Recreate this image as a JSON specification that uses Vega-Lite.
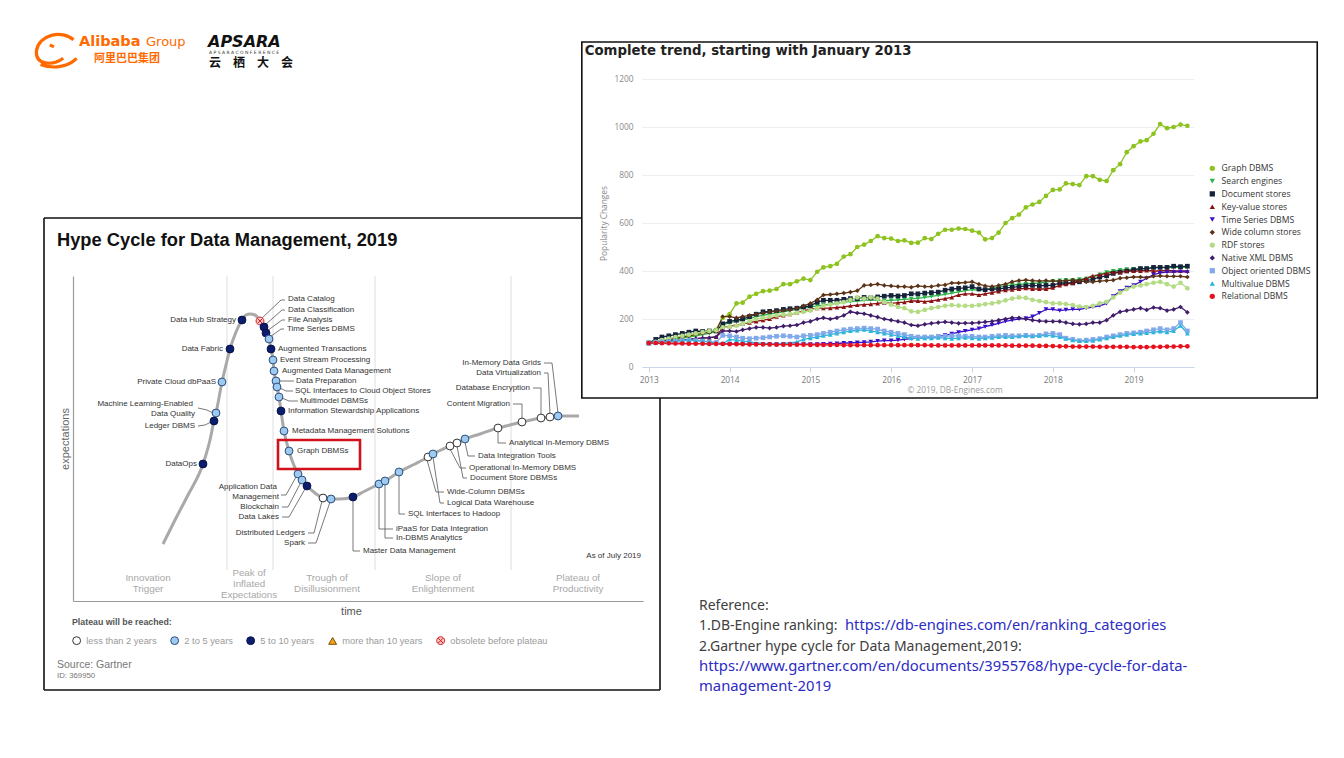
{
"$schema":"https://vega.github.io/schema/vega-lite/v6.json",
"width":1344,"height":758,"padding":0,"autosize":{"type":"none"},
"background":"#ffffff",
"config":{"view":{"stroke":null},"font":"Liberation Sans"},
"datasets":{
"series":[{"k":"g","name":"Graph DBMS"},{"k":"se","name":"Search engines"},{"k":"dc","name":"Document stores"},{"k":"kv","name":"Key-value stores"},{"k":"ts","name":"Time Series DBMS"},{"k":"wc","name":"Wide column stores"},{"k":"rdf","name":"RDF stores"},{"k":"xml","name":"Native XML DBMS"},{"k":"oo","name":"Object oriented DBMS"},{"k":"mv","name":"Multivalue DBMS"},{"k":"rel","name":"Relational DBMS"}],
"trend":[
{"d":"2013-01","g":100,"se":100,"dc":100,"kv":100,"ts":100,"wc":100,"rdf":100,"xml":100,"oo":100,"mv":100,"rel":100},
{"d":"2013-02","g":104,"se":104,"dc":115,"kv":102,"ts":99,"wc":105,"rdf":105,"xml":102,"oo":102,"mv":100,"rel":100},
{"d":"2013-03","g":108,"se":108,"dc":125,"kv":105,"ts":99,"wc":110,"rdf":112,"xml":105,"oo":104,"mv":102,"rel":99},
{"d":"2013-04","g":113,"se":112,"dc":130,"kv":108,"ts":98,"wc":115,"rdf":118,"xml":108,"oo":106,"mv":105,"rel":99},
{"d":"2013-05","g":118,"se":116,"dc":135,"kv":110,"ts":98,"wc":120,"rdf":125,"xml":110,"oo":108,"mv":108,"rel":98},
{"d":"2013-06","g":122,"se":120,"dc":140,"kv":112,"ts":98,"wc":125,"rdf":130,"xml":112,"oo":110,"mv":110,"rel":98},
{"d":"2013-07","g":128,"se":125,"dc":145,"kv":115,"ts":97,"wc":130,"rdf":135,"xml":115,"oo":112,"mv":112,"rel":97},
{"d":"2013-08","g":135,"se":130,"dc":150,"kv":118,"ts":97,"wc":135,"rdf":140,"xml":118,"oo":110,"mv":110,"rel":97},
{"d":"2013-09","g":142,"se":135,"dc":148,"kv":120,"ts":97,"wc":140,"rdf":145,"xml":120,"oo":108,"mv":108,"rel":97},
{"d":"2013-10","g":150,"se":140,"dc":150,"kv":122,"ts":96,"wc":145,"rdf":150,"xml":122,"oo":105,"mv":105,"rel":96},
{"d":"2013-11","g":155,"se":148,"dc":150,"kv":125,"ts":96,"wc":150,"rdf":153,"xml":125,"oo":102,"mv":100,"rel":96},
{"d":"2013-12","g":205,"se":175,"dc":180,"kv":165,"ts":96,"wc":210,"rdf":165,"xml":150,"oo":132,"mv":98,"rel":96},
{"d":"2014-01","g":220,"se":185,"dc":190,"kv":170,"ts":96,"wc":210,"rdf":168,"xml":150,"oo":130,"mv":115,"rel":95},
{"d":"2014-02","g":265,"se":190,"dc":195,"kv":175,"ts":95,"wc":205,"rdf":172,"xml":148,"oo":125,"mv":112,"rel":95},
{"d":"2014-03","g":268,"se":195,"dc":200,"kv":180,"ts":95,"wc":210,"rdf":180,"xml":155,"oo":120,"mv":108,"rel":95},
{"d":"2014-04","g":293,"se":202,"dc":210,"kv":185,"ts":95,"wc":215,"rdf":190,"xml":160,"oo":118,"mv":105,"rel":94},
{"d":"2014-05","g":305,"se":210,"dc":220,"kv":190,"ts":95,"wc":220,"rdf":200,"xml":165,"oo":120,"mv":100,"rel":94},
{"d":"2014-06","g":316,"se":215,"dc":230,"kv":195,"ts":95,"wc":225,"rdf":205,"xml":165,"oo":122,"mv":98,"rel":94},
{"d":"2014-07","g":318,"se":220,"dc":232,"kv":200,"ts":95,"wc":230,"rdf":210,"xml":162,"oo":125,"mv":95,"rel":94},
{"d":"2014-08","g":325,"se":225,"dc":235,"kv":210,"ts":95,"wc":232,"rdf":215,"xml":165,"oo":128,"mv":95,"rel":93},
{"d":"2014-09","g":345,"se":230,"dc":240,"kv":215,"ts":95,"wc":235,"rdf":218,"xml":170,"oo":130,"mv":98,"rel":93},
{"d":"2014-10","g":345,"se":235,"dc":243,"kv":220,"ts":95,"wc":238,"rdf":220,"xml":172,"oo":128,"mv":100,"rel":93},
{"d":"2014-11","g":357,"se":240,"dc":245,"kv":225,"ts":95,"wc":245,"rdf":225,"xml":175,"oo":125,"mv":105,"rel":93},
{"d":"2014-12","g":368,"se":245,"dc":250,"kv":235,"ts":95,"wc":255,"rdf":230,"xml":185,"oo":130,"mv":115,"rel":93},
{"d":"2015-01","g":362,"se":250,"dc":255,"kv":240,"ts":95,"wc":265,"rdf":235,"xml":190,"oo":132,"mv":120,"rel":92},
{"d":"2015-02","g":397,"se":255,"dc":270,"kv":245,"ts":95,"wc":280,"rdf":245,"xml":200,"oo":135,"mv":125,"rel":92},
{"d":"2015-03","g":415,"se":258,"dc":278,"kv":245,"ts":96,"wc":300,"rdf":255,"xml":205,"oo":140,"mv":130,"rel":92},
{"d":"2015-04","g":420,"se":262,"dc":278,"kv":245,"ts":97,"wc":302,"rdf":260,"xml":200,"oo":145,"mv":135,"rel":92},
{"d":"2015-05","g":430,"se":265,"dc":278,"kv":248,"ts":98,"wc":305,"rdf":265,"xml":205,"oo":150,"mv":140,"rel":92},
{"d":"2015-06","g":460,"se":270,"dc":282,"kv":250,"ts":100,"wc":308,"rdf":270,"xml":215,"oo":155,"mv":145,"rel":91},
{"d":"2015-07","g":470,"se":272,"dc":285,"kv":255,"ts":100,"wc":312,"rdf":280,"xml":230,"oo":158,"mv":150,"rel":91},
{"d":"2015-08","g":500,"se":275,"dc":285,"kv":258,"ts":102,"wc":318,"rdf":290,"xml":225,"oo":160,"mv":152,"rel":91},
{"d":"2015-09","g":510,"se":278,"dc":290,"kv":260,"ts":103,"wc":340,"rdf":285,"xml":222,"oo":162,"mv":155,"rel":91},
{"d":"2015-10","g":525,"se":280,"dc":288,"kv":262,"ts":105,"wc":342,"rdf":290,"xml":215,"oo":160,"mv":150,"rel":91},
{"d":"2015-11","g":545,"se":278,"dc":292,"kv":265,"ts":108,"wc":345,"rdf":285,"xml":208,"oo":158,"mv":145,"rel":91},
{"d":"2015-12","g":537,"se":276,"dc":295,"kv":268,"ts":110,"wc":340,"rdf":270,"xml":200,"oo":150,"mv":140,"rel":91},
{"d":"2016-01","g":535,"se":278,"dc":298,"kv":265,"ts":110,"wc":338,"rdf":260,"xml":195,"oo":145,"mv":135,"rel":91},
{"d":"2016-02","g":525,"se":280,"dc":296,"kv":268,"ts":112,"wc":335,"rdf":250,"xml":190,"oo":140,"mv":130,"rel":91},
{"d":"2016-03","g":528,"se":282,"dc":298,"kv":270,"ts":115,"wc":335,"rdf":245,"xml":185,"oo":135,"mv":125,"rel":91},
{"d":"2016-04","g":517,"se":284,"dc":305,"kv":275,"ts":118,"wc":332,"rdf":232,"xml":175,"oo":128,"mv":120,"rel":91},
{"d":"2016-05","g":518,"se":286,"dc":305,"kv":275,"ts":120,"wc":338,"rdf":230,"xml":172,"oo":125,"mv":118,"rel":91},
{"d":"2016-06","g":537,"se":290,"dc":308,"kv":272,"ts":122,"wc":335,"rdf":238,"xml":178,"oo":125,"mv":120,"rel":91},
{"d":"2016-07","g":533,"se":294,"dc":310,"kv":275,"ts":125,"wc":335,"rdf":245,"xml":182,"oo":125,"mv":120,"rel":90},
{"d":"2016-08","g":555,"se":298,"dc":312,"kv":280,"ts":128,"wc":340,"rdf":250,"xml":185,"oo":128,"mv":122,"rel":90},
{"d":"2016-09","g":572,"se":303,"dc":320,"kv":285,"ts":132,"wc":342,"rdf":255,"xml":188,"oo":128,"mv":120,"rel":90},
{"d":"2016-10","g":572,"se":308,"dc":325,"kv":290,"ts":138,"wc":350,"rdf":258,"xml":185,"oo":130,"mv":118,"rel":90},
{"d":"2016-11","g":577,"se":313,"dc":328,"kv":300,"ts":145,"wc":350,"rdf":256,"xml":182,"oo":130,"mv":120,"rel":90},
{"d":"2016-12","g":575,"se":318,"dc":330,"kv":305,"ts":150,"wc":352,"rdf":255,"xml":183,"oo":128,"mv":122,"rel":90},
{"d":"2017-01","g":568,"se":322,"dc":335,"kv":305,"ts":155,"wc":355,"rdf":255,"xml":183,"oo":128,"mv":120,"rel":90},
{"d":"2017-02","g":560,"se":320,"dc":325,"kv":300,"ts":160,"wc":345,"rdf":258,"xml":185,"oo":125,"mv":118,"rel":90},
{"d":"2017-03","g":532,"se":322,"dc":322,"kv":305,"ts":168,"wc":338,"rdf":262,"xml":188,"oo":125,"mv":120,"rel":90},
{"d":"2017-04","g":537,"se":328,"dc":325,"kv":310,"ts":175,"wc":335,"rdf":265,"xml":190,"oo":128,"mv":122,"rel":90},
{"d":"2017-05","g":560,"se":333,"dc":325,"kv":315,"ts":182,"wc":340,"rdf":270,"xml":195,"oo":130,"mv":125,"rel":90},
{"d":"2017-06","g":600,"se":338,"dc":330,"kv":320,"ts":190,"wc":345,"rdf":278,"xml":200,"oo":132,"mv":125,"rel":90},
{"d":"2017-07","g":620,"se":342,"dc":332,"kv":322,"ts":195,"wc":355,"rdf":285,"xml":205,"oo":130,"mv":125,"rel":89},
{"d":"2017-08","g":635,"se":344,"dc":335,"kv":325,"ts":200,"wc":360,"rdf":290,"xml":205,"oo":130,"mv":128,"rel":89},
{"d":"2017-09","g":665,"se":346,"dc":338,"kv":328,"ts":203,"wc":362,"rdf":288,"xml":200,"oo":132,"mv":130,"rel":89},
{"d":"2017-10","g":677,"se":348,"dc":340,"kv":325,"ts":210,"wc":360,"rdf":280,"xml":195,"oo":130,"mv":128,"rel":89},
{"d":"2017-11","g":688,"se":350,"dc":338,"kv":325,"ts":225,"wc":358,"rdf":275,"xml":192,"oo":132,"mv":130,"rel":88},
{"d":"2017-12","g":713,"se":354,"dc":340,"kv":325,"ts":240,"wc":360,"rdf":270,"xml":190,"oo":138,"mv":132,"rel":88},
{"d":"2018-01","g":738,"se":358,"dc":340,"kv":330,"ts":240,"wc":358,"rdf":265,"xml":190,"oo":140,"mv":130,"rel":87},
{"d":"2018-02","g":740,"se":360,"dc":350,"kv":340,"ts":235,"wc":358,"rdf":265,"xml":190,"oo":135,"mv":125,"rel":86},
{"d":"2018-03","g":765,"se":362,"dc":350,"kv":345,"ts":238,"wc":360,"rdf":262,"xml":185,"oo":120,"mv":118,"rel":86},
{"d":"2018-04","g":762,"se":362,"dc":350,"kv":350,"ts":240,"wc":362,"rdf":258,"xml":180,"oo":115,"mv":112,"rel":85},
{"d":"2018-05","g":758,"se":365,"dc":355,"kv":360,"ts":240,"wc":360,"rdf":252,"xml":178,"oo":110,"mv":108,"rel":85},
{"d":"2018-06","g":795,"se":368,"dc":360,"kv":370,"ts":245,"wc":355,"rdf":250,"xml":180,"oo":112,"mv":108,"rel":85},
{"d":"2018-07","g":795,"se":375,"dc":365,"kv":380,"ts":250,"wc":355,"rdf":255,"xml":185,"oo":115,"mv":110,"rel":85},
{"d":"2018-08","g":780,"se":385,"dc":375,"kv":385,"ts":255,"wc":358,"rdf":265,"xml":185,"oo":118,"mv":115,"rel":84},
{"d":"2018-09","g":775,"se":395,"dc":380,"kv":390,"ts":265,"wc":360,"rdf":272,"xml":195,"oo":125,"mv":120,"rel":84},
{"d":"2018-10","g":820,"se":400,"dc":390,"kv":395,"ts":295,"wc":362,"rdf":290,"xml":215,"oo":130,"mv":125,"rel":84},
{"d":"2018-11","g":845,"se":404,"dc":395,"kv":395,"ts":315,"wc":370,"rdf":310,"xml":230,"oo":135,"mv":130,"rel":84},
{"d":"2018-12","g":895,"se":407,"dc":400,"kv":400,"ts":330,"wc":372,"rdf":325,"xml":235,"oo":140,"mv":135,"rel":84},
{"d":"2019-01","g":920,"se":408,"dc":405,"kv":400,"ts":340,"wc":375,"rdf":335,"xml":240,"oo":142,"mv":138,"rel":83},
{"d":"2019-02","g":940,"se":410,"dc":410,"kv":400,"ts":355,"wc":375,"rdf":340,"xml":245,"oo":145,"mv":140,"rel":83},
{"d":"2019-03","g":945,"se":410,"dc":410,"kv":402,"ts":370,"wc":372,"rdf":345,"xml":238,"oo":150,"mv":142,"rel":83},
{"d":"2019-04","g":972,"se":412,"dc":415,"kv":400,"ts":385,"wc":378,"rdf":351,"xml":248,"oo":155,"mv":145,"rel":84},
{"d":"2019-05","g":1012,"se":414,"dc":415,"kv":400,"ts":392,"wc":380,"rdf":355,"xml":245,"oo":160,"mv":148,"rel":84},
{"d":"2019-06","g":995,"se":414,"dc":415,"kv":402,"ts":395,"wc":378,"rdf":345,"xml":235,"oo":155,"mv":145,"rel":85},
{"d":"2019-07","g":1000,"se":415,"dc":420,"kv":400,"ts":395,"wc":378,"rdf":335,"xml":240,"oo":160,"mv":150,"rel":85},
{"d":"2019-08","g":1010,"se":416,"dc":418,"kv":400,"ts":398,"wc":378,"rdf":351,"xml":250,"oo":185,"mv":172,"rel":86},
{"d":"2019-09","g":1005,"se":415,"dc":420,"kv":400,"ts":395,"wc":375,"rdf":328,"xml":228,"oo":150,"mv":140,"rel":86}
],
"hcurve":[{"x":18,"y":11.4},{"x":20.4,"y":16.2},{"x":23,"y":21.2},{"x":26,"y":27.4},{"x":27.4,"y":32.2},{"x":28.2,"y":36},{"x":28.6,"y":37.6},{"x":29.8,"y":43.8},{"x":30.6,"y":47.2},{"x":31.4,"y":50.4},{"x":32.6,"y":53.8},{"x":33.8,"y":56.2},{"x":34.6,"y":57.2},{"x":35.4,"y":57.4},{"x":36.4,"y":57.2},{"x":37.4,"y":56},{"x":38.2,"y":54.8},{"x":38.6,"y":53.6},{"x":39.2,"y":52.4},{"x":39.6,"y":50.4},{"x":40,"y":48.2},{"x":40.2,"y":46},{"x":40.6,"y":44},{"x":40.8,"y":42.8},{"x":41.2,"y":40.8},{"x":41.6,"y":38},{"x":42.2,"y":34},{"x":43.2,"y":30},{"x":44,"y":27.6},{"x":45,"y":25.4},{"x":45.8,"y":24.2},{"x":46.8,"y":23},{"x":48.4,"y":21.6},{"x":50,"y":20.6},{"x":51.6,"y":20.4},{"x":53.4,"y":20.4},{"x":56,"y":20.8},{"x":58.4,"y":22},{"x":61.2,"y":23.4},{"x":62.4,"y":24},{"x":65.2,"y":25.8},{"x":68.4,"y":27.4},{"x":71,"y":28.8},{"x":72,"y":29.4},{"x":75.4,"y":31},{"x":76.8,"y":31.6},{"x":78.4,"y":32.4},{"x":81.4,"y":33.4},{"x":85,"y":34.6},{"x":87.4,"y":35.2},{"x":89.8,"y":35.8},{"x":93.6,"y":36.6},{"x":95.4,"y":36.8},{"x":97,"y":37},{"x":101.2,"y":37}],
"hpts":[{"x":26,"y":27.4,"c":"5 to 10 years"},{"x":28.2,"y":36,"c":"5 to 10 years"},{"x":28.6,"y":37.6,"c":"2 to 5 years"},{"x":29.8,"y":43.8,"c":"2 to 5 years"},{"x":31.4,"y":50.4,"c":"5 to 10 years"},{"x":33.8,"y":56.2,"c":"5 to 10 years"},{"x":37.4,"y":56,"c":"obsolete before plateau"},{"x":38.2,"y":54.8,"c":"5 to 10 years"},{"x":38.6,"y":53.6,"c":"5 to 10 years"},{"x":39.2,"y":52.4,"c":"2 to 5 years"},{"x":39.6,"y":50.4,"c":"5 to 10 years"},{"x":40,"y":48.2,"c":"2 to 5 years"},{"x":40.2,"y":46,"c":"2 to 5 years"},{"x":40.6,"y":44,"c":"2 to 5 years"},{"x":40.8,"y":42.8,"c":"2 to 5 years"},{"x":41.2,"y":40.8,"c":"2 to 5 years"},{"x":41.6,"y":38,"c":"5 to 10 years"},{"x":42.2,"y":34,"c":"2 to 5 years"},{"x":43.2,"y":30,"c":"2 to 5 years"},{"x":45,"y":25.4,"c":"2 to 5 years"},{"x":45.8,"y":24.2,"c":"2 to 5 years"},{"x":46.8,"y":23,"c":"5 to 10 years"},{"x":50,"y":20.6,"c":"less than 2 years"},{"x":51.6,"y":20.4,"c":"2 to 5 years"},{"x":56,"y":20.8,"c":"5 to 10 years"},{"x":61.2,"y":23.4,"c":"2 to 5 years"},{"x":62.4,"y":24,"c":"2 to 5 years"},{"x":65.2,"y":25.8,"c":"2 to 5 years"},{"x":71,"y":28.8,"c":"less than 2 years"},{"x":72,"y":29.4,"c":"2 to 5 years"},{"x":75.4,"y":31,"c":"less than 2 years"},{"x":76.8,"y":31.6,"c":"less than 2 years"},{"x":78.4,"y":32.4,"c":"2 to 5 years"},{"x":85,"y":34.6,"c":"less than 2 years"},{"x":89.8,"y":35.8,"c":"less than 2 years"},{"x":93.6,"y":36.6,"c":"less than 2 years"},{"x":95.4,"y":36.8,"c":"less than 2 years"},{"x":97,"y":37,"c":"2 to 5 years"}],
"hlabL":[{"x":43,"y":60.4,"t":"Data Catalog"},{"x":43,"y":58.2,"t":"Data Classification"},{"x":43,"y":56.2,"t":"File Analysis"},{"x":42.8,"y":54.4,"t":"Time Series DBMS"},{"x":41,"y":50.4,"t":"Augmented Transactions"},{"x":41.4,"y":48.2,"t":"Event Stream Processing"},{"x":41.8,"y":46,"t":"Augmented Data Management"},{"x":44.6,"y":44,"t":"Data Preparation"},{"x":44.4,"y":42,"t":"SQL Interfaces to Cloud Object Stores"},{"x":45.4,"y":40,"t":"Multimodel DBMSs"},{"x":43,"y":38,"t":"Information Stewardship Applications"},{"x":43.8,"y":34,"t":"Metadata Management Solutions"},{"x":44.8,"y":30,"t":"Graph DBMSs"},{"x":58,"y":10,"t":"Master Data Management"},{"x":64.6,"y":14.4,"t":"iPaaS for Data Integration"},{"x":64.6,"y":12.6,"t":"In-DBMS Analytics"},{"x":67,"y":17.4,"t":"SQL Interfaces to Hadoop"},{"x":74.8,"y":21.8,"t":"Wide-Column DBMSs"},{"x":74.8,"y":19.6,"t":"Logical Data Warehouse"},{"x":79.2,"y":26.6,"t":"Operational In-Memory DBMS"},{"x":79.4,"y":24.6,"t":"Document Store DBMSs"},{"x":81,"y":29,"t":"Data Integration Tools"},{"x":87.2,"y":31.6,"t":"Analytical In-Memory DBMS"}],
"hlabR":[{"x":32.6,"y":56.2,"t":"Data Hub Strategy"},{"x":30,"y":50.4,"t":"Data Fabric"},{"x":28.6,"y":43.8,"t":"Private Cloud dbPaaS"},{"x":24,"y":39.4,"t":"Machine Learning-Enabled"},{"x":24.4,"y":37.4,"t":"Data Quality"},{"x":24.4,"y":35,"t":"Ledger DBMS"},{"x":24.8,"y":27.4,"t":"DataOps"},{"x":40.8,"y":22.8,"t":"Application Data"},{"x":41.2,"y":20.8,"t":"Management"},{"x":41.2,"y":18.8,"t":"Blockchain"},{"x":41.2,"y":16.8,"t":"Data Lakes"},{"x":46.4,"y":13.6,"t":"Distributed Ledgers"},{"x":46.4,"y":11.6,"t":"Spark"},{"x":93.6,"y":47.6,"t":"In-Memory Data Grids"},{"x":93.6,"y":45.6,"t":"Data Virtualization"},{"x":91.4,"y":42.6,"t":"Database Encryption"},{"x":87.4,"y":39.4,"t":"Content Migration"}],
"hlead":[
{"id":"a","o":1,"x":37.6,"y":56.4},{"id":"a","o":2,"x":41.6,"y":60.2},{"id":"a","o":3,"x":42.4,"y":60.2},
{"id":"b","o":1,"x":38.4,"y":55.2},{"id":"b","o":2,"x":41.8,"y":58.2},{"id":"b","o":3,"x":42.4,"y":58.2},
{"id":"c","o":1,"x":38.8,"y":54},{"id":"c","o":2,"x":41.8,"y":56.2},{"id":"c","o":3,"x":42.4,"y":56.2},
{"id":"d","o":1,"x":39.4,"y":52.8},{"id":"d","o":2,"x":41.6,"y":54.4},{"id":"d","o":3,"x":42.2,"y":54.4},
{"id":"e","o":1,"x":41.4,"y":44},{"id":"e","o":2,"x":44.2,"y":44},
{"id":"f","o":1,"x":41.4,"y":42.6},{"id":"f","o":2,"x":42.6,"y":42},{"id":"f","o":3,"x":44,"y":42},
{"id":"g","o":1,"x":41.8,"y":40.6},{"id":"g","o":2,"x":43.2,"y":40},{"id":"g","o":3,"x":45,"y":40},
{"id":"h","o":1,"x":25,"y":38.6},{"id":"h","o":2,"x":26.8,"y":38.2},{"id":"h","o":3,"x":28,"y":37.6},
{"id":"i","o":1,"x":25,"y":35},{"id":"i","o":2,"x":26.4,"y":35.2},{"id":"i","o":3,"x":27.6,"y":35.8},
{"id":"j","o":1,"x":41.6,"y":21.2},{"id":"j","o":2,"x":42.6,"y":21.2},{"id":"j","o":3,"x":44.6,"y":24.8},
{"id":"k","o":1,"x":41.8,"y":18.8},{"id":"k","o":2,"x":43,"y":18.8},{"id":"k","o":3,"x":45.4,"y":23.4},
{"id":"l","o":1,"x":41.8,"y":16.8},{"id":"l","o":2,"x":43.2,"y":16.8},{"id":"l","o":3,"x":46.4,"y":22.4},
{"id":"m","o":1,"x":47,"y":13.6},{"id":"m","o":2,"x":48.2,"y":13.6},{"id":"m","o":3,"x":49.8,"y":20},
{"id":"n","o":1,"x":47,"y":11.6},{"id":"n","o":2,"x":48.6,"y":11.6},{"id":"n","o":3,"x":51.4,"y":19.8},
{"id":"o","o":1,"x":56,"y":20.2},{"id":"o","o":2,"x":56,"y":10},{"id":"o","o":3,"x":57.4,"y":10},
{"id":"p","o":1,"x":61.2,"y":22.8},{"id":"p","o":2,"x":61.2,"y":14.4},{"id":"p","o":3,"x":64,"y":14.4},
{"id":"q","o":1,"x":62.4,"y":23.4},{"id":"q","o":2,"x":62.4,"y":12.6},{"id":"q","o":3,"x":64,"y":12.6},
{"id":"r","o":1,"x":65.2,"y":25.2},{"id":"r","o":2,"x":65.2,"y":17.4},{"id":"r","o":3,"x":66.4,"y":17.4},
{"id":"s","o":1,"x":70.8,"y":28.2},{"id":"s","o":2,"x":72.6,"y":21.8},{"id":"s","o":3,"x":74.2,"y":21.8},
{"id":"t","o":1,"x":72,"y":28.8},{"id":"t","o":2,"x":73.4,"y":19.6},{"id":"t","o":3,"x":74.2,"y":19.6},
{"id":"u","o":1,"x":75.4,"y":30.4},{"id":"u","o":2,"x":77.4,"y":26.6},{"id":"u","o":3,"x":78.6,"y":26.6},
{"id":"v","o":1,"x":76.8,"y":31},{"id":"v","o":2,"x":78,"y":24.6},{"id":"v","o":3,"x":78.8,"y":24.6},
{"id":"w","o":1,"x":78.4,"y":31.8},{"id":"w","o":2,"x":79,"y":29},{"id":"w","o":3,"x":80.4,"y":29},
{"id":"x","o":1,"x":85,"y":34},{"id":"x","o":2,"x":85,"y":31.6},{"id":"x","o":3,"x":86.6,"y":31.6},
{"id":"y","o":1,"x":89.8,"y":36.4},{"id":"y","o":2,"x":89.8,"y":39.4},{"id":"y","o":3,"x":88,"y":39.4},
{"id":"z","o":1,"x":93.6,"y":37.2},{"id":"z","o":2,"x":93.6,"y":42.6},{"id":"z","o":3,"x":92,"y":42.6},
{"id":"za","o":1,"x":95.4,"y":37.4},{"id":"za","o":2,"x":95,"y":45.6},{"id":"za","o":3,"x":94.2,"y":45.6},
{"id":"zb","o":1,"x":97,"y":37.6},{"id":"zb","o":2,"x":95.8,"y":47.6},{"id":"zb","o":3,"x":94.2,"y":47.6}
],
"phaseLines":[{"x":30.8},{"x":40},{"x":60.4},{"x":87.6}],
"phaseText":[{"x":15,"y":4.6,"t":"Innovation"},{"x":15,"y":2.4,"t":"Trigger"},{"x":35.2,"y":5.6,"t":"Peak of"},{"x":35.2,"y":3.4,"t":"Inflated"},{"x":35.2,"y":1.2,"t":"Expectations"},{"x":50.8,"y":4.6,"t":"Trough of"},{"x":50.8,"y":2.4,"t":"Disillusionment"},{"x":74,"y":4.6,"t":"Slope of"},{"x":74,"y":2.4,"t":"Enlightenment"},{"x":101,"y":4.6,"t":"Plateau of"},{"x":101,"y":2.4,"t":"Productivity"}]
},
"layer":[
{"data":{"values":[{}]},"mark":{"type":"rule","x":0.5,"y":0,"y2":560,"color":"#b4b4b4","strokeWidth":1},"encoding":{}},
{"data":{"values":[{}]},"mark":{"type":"rule","x":0,"x2":1344,"y":756.5,"color":"#9a9a9a","strokeWidth":1},"encoding":{}},
{"data":{"values":[{}]},"mark":{"type":"point","shape":"M0.85,-0.45 C0.3,-0.95 -0.85,-0.7 -0.95,0.1 C-1,0.75 -0.2,0.85 0.35,0.45 M-0.75,0.75 C-0.1,1 0.6,0.85 1,0.45 M-0.3,-0.2 L-0.1,-0.1","x":56,"y":49,"size":1700,"filled":false,"stroke":"#ff6a00","strokeWidth":3.2,"opacity":1},"encoding":{}},
{"data":{"values":[{}]},"mark":{"type":"text","text":"Alibaba","x":79,"y":42,"align":"left","baseline":"middle","font":"DejaVu Sans","fontSize":14.5,"fontWeight":"bold","color":"#ff6a00"}},
{"data":{"values":[{}]},"mark":{"type":"text","text":"Group","x":146,"y":42,"align":"left","baseline":"middle","font":"DejaVu Sans","fontSize":13,"color":"#ff6a00"}},
{"data":{"values":[{}]},"mark":{"type":"text","text":"阿里巴巴集团","x":94,"y":58.5,"align":"left","baseline":"middle","font":"Noto Sans CJK SC","fontSize":11,"fontWeight":"bold","color":"#ff6a00"}},
{"data":{"values":[{}]},"mark":{"type":"rule","x":197.5,"y":36,"y2":63,"color":"#666666","strokeWidth":1},"encoding":{}},
{"data":{"values":[{}]},"mark":{"type":"text","text":"APSARA","x":208,"y":42,"align":"left","baseline":"middle","font":"DejaVu Sans","fontSize":16,"fontWeight":"bold","fontStyle":"italic","color":"#111111"}},
{"data":{"values":[{}]},"mark":{"type":"text","text":"A P S A R A   C O N F E R E N C E","x":209,"y":53,"align":"left","baseline":"middle","font":"DejaVu Sans","fontSize":4.5,"color":"#333333"}},
{"data":{"values":[{}]},"mark":{"type":"text","text":"云　栖　大　会","x":209,"y":63,"align":"left","baseline":"middle","font":"Noto Sans CJK SC","fontSize":12,"fontWeight":"bold","color":"#111111"}},
{"data":{"values":[{}]},"mark":{"type":"text","text":["Reference:","1.DB-Engine ranking:","2.Gartner hype cycle for Data Management,2019:"],"x":699,"y":610,"align":"left","baseline":"alphabetic","lineHeight":20.3,"font":"Noto Sans","fontSize":14,"color":"#404040"}},
{"data":{"values":[{}]},"mark":{"type":"text","text":"https://db-engines.com/en/ranking_categories","x":845,"y":630.3,"align":"left","baseline":"alphabetic","font":"Noto Sans","fontSize":14.7,"color":"#2b2bc4"}},
{"data":{"values":[{}]},"mark":{"type":"text","text":["https://www.gartner.com/en/documents/3955768/hype-cycle-for-data-","management-2019"],"x":699,"y":670.9,"align":"left","baseline":"alphabetic","lineHeight":20.3,"font":"Noto Sans","fontSize":14.8,"color":"#2b2bc4"}},
{"data":{"values":[{}]},"mark":{"type":"rule","x":845,"x2":1166,"y":632.5,"color":"#2b2bc4","strokeWidth":1},"encoding":{}},
{"data":{"values":[{}]},"mark":{"type":"rule","x":699,"x2":1189,"y":673,"color":"#2b2bc4","strokeWidth":1},"encoding":{}},
{"data":{"values":[{}]},"mark":{"type":"rule","x":699,"x2":827,"y":693.3,"color":"#2b2bc4","strokeWidth":1},"encoding":{}},
{"data":{"values":[{}]},"mark":{"type":"rule","color":"#111111","strokeWidth":1.6},"encoding":{"x":{"datum":-5.8,"type":"quantitative","scale":{"domain":[0,114],"range":[73,643],"nice":false,"zero":false},"axis":null},"y":{"datum":76.6,"type":"quantitative","scale":{"domain":[0,65],"range":[601,276],"nice":false,"zero":false},"axis":null},"y2":{"datum":-17.8}}},
{"data":{"values":[{}]},"mark":{"type":"rule","color":"#111111","strokeWidth":1.6},"encoding":{"x":{"datum":-5.8,"type":"quantitative","scale":{"domain":[0,114],"range":[73,643],"nice":false,"zero":false},"axis":null},"x2":{"datum":101.8},"y":{"datum":76.6,"type":"quantitative","scale":{"domain":[0,65],"range":[601,276],"nice":false,"zero":false},"axis":null}}},
{"data":{"values":[{}]},"mark":{"type":"rule","color":"#111111","strokeWidth":1.6},"encoding":{"x":{"datum":-5.8,"type":"quantitative","scale":{"domain":[0,114],"range":[73,643],"nice":false,"zero":false},"axis":null},"x2":{"datum":117.4},"y":{"datum":-17.8,"type":"quantitative","scale":{"domain":[0,65],"range":[601,276],"nice":false,"zero":false},"axis":null}}},
{"data":{"values":[{}]},"mark":{"type":"rule","color":"#111111","strokeWidth":1.6},"encoding":{"x":{"datum":117.4,"type":"quantitative","scale":{"domain":[0,114],"range":[73,643],"nice":false,"zero":false},"axis":null},"y":{"datum":40.6,"type":"quantitative","scale":{"domain":[0,65],"range":[601,276],"nice":false,"zero":false},"axis":null},"y2":{"datum":-17.8}}},
{"data":{"name":"phaseLines"},"mark":{"type":"rule","color":"#dedede","strokeWidth":1},"encoding":{"x":{"field":"x","type":"quantitative","scale":{"domain":[0,114],"range":[73,643],"nice":false,"zero":false},"axis":null},"y":{"datum":6.2,"type":"quantitative","scale":{"domain":[0,65],"range":[601,276],"nice":false,"zero":false},"axis":null},"y2":{"datum":65}}},
{"data":{"name":"phaseText"},"mark":{"type":"text","align":"center","baseline":"middle","font":"Liberation Sans","fontSize":9.8,"color":"#a8a8a8"},"encoding":{"x":{"field":"x","type":"quantitative","scale":{"domain":[0,114],"range":[73,643],"nice":false,"zero":false},"axis":null},"y":{"field":"y","type":"quantitative","scale":{"domain":[0,65],"range":[601,276],"nice":false,"zero":false},"axis":null},"text":{"field":"t"}}},
{"data":{"name":"hcurve"},"mark":{"type":"line","color":"#a9a9a9","strokeWidth":3,"interpolate":"monotone"},"encoding":{"x":{"field":"x","type":"quantitative","scale":{"domain":[0,114],"range":[73,643],"nice":false,"zero":false},"axis":{"orient":"bottom","offset":-157,"zindex":1,"ticks":false,"labels":false,"grid":false,"domain":true,"domainColor":"#9a9a9a","domainWidth":1.2,"title":"time","titleFont":"Liberation Sans","titleFontSize":11,"titleFontWeight":"normal","titleColor":"#555555","titlePadding":4,"titleX":351}},"y":{"field":"y","type":"quantitative","scale":{"domain":[0,65],"range":[601,276],"nice":false,"zero":false},"axis":{"orient":"left","offset":-73,"zindex":1,"ticks":false,"labels":false,"grid":false,"domain":true,"domainColor":"#9a9a9a","domainWidth":1.2,"title":"expectations","titleFont":"Liberation Sans","titleFontSize":11,"titleFontWeight":"normal","titleColor":"#666666","titlePadding":3}}}},
{"data":{"name":"hlead"},"mark":{"type":"line","color":"#555555","strokeWidth":0.8},"encoding":{"x":{"field":"x","type":"quantitative","scale":{"domain":[0,114],"range":[73,643],"nice":false,"zero":false},"axis":null},"y":{"field":"y","type":"quantitative","scale":{"domain":[0,65],"range":[601,276],"nice":false,"zero":false},"axis":null},"detail":{"field":"id"},"order":{"field":"o"}}},
{"data":{"name":"hpts"},"mark":{"type":"point","filled":true,"size":62,"strokeWidth":1,"opacity":1},"encoding":{"x":{"field":"x","type":"quantitative","scale":{"domain":[0,114],"range":[73,643],"nice":false,"zero":false},"axis":null},"y":{"field":"y","type":"quantitative","scale":{"domain":[0,65],"range":[601,276],"nice":false,"zero":false},"axis":null},
   "fill":{"field":"c","type":"nominal","scale":{"domain":["less than 2 years","2 to 5 years","5 to 10 years","more than 10 years","obsolete before plateau"],"range":["#ffffff","#9dcbf0","#0b1d6b","#f2a31e","#f6c6c6"]},"legend":{"title":"Plateau will be reached:","orient":"none","legendX":72,"legendY":618,"direction":"horizontal","padding":0,"titleFont":"Liberation Sans","titleFontSize":8.8,"titleFontWeight":"bold","titleColor":"#555555","titlePadding":9,"labelFont":"Liberation Sans","labelFontSize":9.3,"labelColor":"#9a9a9a","labelOffset":5,"columnPadding":11,"symbolSize":62,"symbolStrokeWidth":1}},
   "stroke":{"field":"c","type":"nominal","scale":{"domain":["less than 2 years","2 to 5 years","5 to 10 years","more than 10 years","obsolete before plateau"],"range":["#333333","#2c4d80","#08134d","#7a5000","#d81e1e"]},"legend":{"title":"Plateau will be reached:","orient":"none","legendX":72,"legendY":618,"direction":"horizontal","padding":0,"titleFont":"Liberation Sans","titleFontSize":8.8,"titleFontWeight":"bold","titleColor":"#555555","titlePadding":9,"labelFont":"Liberation Sans","labelFontSize":9.3,"labelColor":"#9a9a9a","labelOffset":5,"columnPadding":11,"symbolSize":62,"symbolStrokeWidth":1}},
   "shape":{"field":"c","type":"nominal","scale":{"domain":["less than 2 years","2 to 5 years","5 to 10 years","more than 10 years","obsolete before plateau"],"range":["circle","circle","circle","triangle-up","M-1,0A1,1 0 1,0 1,0A1,1 0 1,0 -1,0ZM-0.6,-0.6L0.6,0.6M-0.6,0.6L0.6,-0.6"]},"legend":{"title":"Plateau will be reached:","orient":"none","legendX":72,"legendY":618,"direction":"horizontal","padding":0,"titleFont":"Liberation Sans","titleFontSize":8.8,"titleFontWeight":"bold","titleColor":"#555555","titlePadding":9,"labelFont":"Liberation Sans","labelFontSize":9.3,"labelColor":"#9a9a9a","labelOffset":5,"columnPadding":11,"symbolSize":62,"symbolStrokeWidth":1}}}},
{"data":{"name":"hlabL"},"mark":{"type":"text","align":"left","baseline":"middle","font":"Liberation Sans","fontSize":8,"color":"#333333"},"encoding":{"x":{"field":"x","type":"quantitative","scale":{"domain":[0,114],"range":[73,643],"nice":false,"zero":false},"axis":null},"y":{"field":"y","type":"quantitative","scale":{"domain":[0,65],"range":[601,276],"nice":false,"zero":false},"axis":null},"text":{"field":"t"}}},
{"data":{"name":"hlabR"},"mark":{"type":"text","align":"right","baseline":"middle","font":"Liberation Sans","fontSize":8,"color":"#333333"},"encoding":{"x":{"field":"x","type":"quantitative","scale":{"domain":[0,114],"range":[73,643],"nice":false,"zero":false},"axis":null},"y":{"field":"y","type":"quantitative","scale":{"domain":[0,65],"range":[601,276],"nice":false,"zero":false},"axis":null},"text":{"field":"t"}}},
{"data":{"values":[{}]},"mark":{"type":"rect","fillOpacity":0,"stroke":"#d0111b","strokeWidth":2.6},"encoding":{"x":{"datum":41,"type":"quantitative","scale":{"domain":[0,114],"range":[73,643],"nice":false,"zero":false},"axis":null},"x2":{"datum":57.4},"y":{"datum":32.2,"type":"quantitative","scale":{"domain":[0,65],"range":[601,276],"nice":false,"zero":false},"axis":null},"y2":{"datum":26.4}}},
{"data":{"values":[{}]},"mark":{"type":"text","text":"Hype Cycle for Data Management, 2019","align":"left","baseline":"middle","font":"Liberation Sans","fontSize":18.3,"fontWeight":"bold","color":"#111111"},"encoding":{"x":{"datum":-3.2,"type":"quantitative","scale":{"domain":[0,114],"range":[73,643],"nice":false,"zero":false},"axis":null},"y":{"datum":72,"type":"quantitative","scale":{"domain":[0,65],"range":[601,276],"nice":false,"zero":false},"axis":null}}},
{"data":{"values":[{}]},"mark":{"type":"text","text":"As of July 2019","align":"right","baseline":"middle","font":"Liberation Sans","fontSize":8,"color":"#333333"},"encoding":{"x":{"datum":113.6,"type":"quantitative","scale":{"domain":[0,114],"range":[73,643],"nice":false,"zero":false},"axis":null},"y":{"datum":9,"type":"quantitative","scale":{"domain":[0,65],"range":[601,276],"nice":false,"zero":false},"axis":null}}},
{"data":{"values":[{}]},"mark":{"type":"text","text":"Source: Gartner","align":"left","baseline":"middle","font":"Liberation Sans","fontSize":10.5,"color":"#777777"},"encoding":{"x":{"datum":-3.2,"type":"quantitative","scale":{"domain":[0,114],"range":[73,643],"nice":false,"zero":false},"axis":null},"y":{"datum":-12.8,"type":"quantitative","scale":{"domain":[0,65],"range":[601,276],"nice":false,"zero":false},"axis":null}}},
{"data":{"values":[{}]},"mark":{"type":"text","text":"ID: 369950","align":"left","baseline":"middle","font":"Liberation Sans","fontSize":7.8,"color":"#777777"},"encoding":{"x":{"datum":-3.2,"type":"quantitative","scale":{"domain":[0,114],"range":[73,643],"nice":false,"zero":false},"axis":null},"y":{"datum":-15,"type":"quantitative","scale":{"domain":[0,65],"range":[601,276],"nice":false,"zero":false},"axis":null}}},
{"data":{"name":"trend"},
  "transform":[{"fold":["g","se","dc","kv","ts","wc","rdf","xml","oo","mv","rel"],"as":["k","v"]},{"lookup":"k","from":{"data":{"name":"series"},"key":"k","fields":["name"]}}],
  "mark":{"type":"line","strokeWidth":1.3},"encoding":{
     "x":{"field":"d","type":"temporal","scale":{"domain":[{"year":2012,"month":12,"date":1},{"year":2019,"month":10,"date":1}],"range":[642,1194],"nice":false},"axis":{"orient":"bottom","offset":-391,"zindex":1,"values":[{"year":2013},{"year":2014},{"year":2015},{"year":2016},{"year":2017},{"year":2018},{"year":2019}],"format":"%Y","labelFont":"Open Sans","labelFontSize":8.3,"labelColor":"#777777","tickColor":"#ccd6eb","domainColor":"#ccd6eb","tickSize":5,"labelPadding":3,"grid":false,"title":null,"labelFlush":false}},
     "y":{"field":"v","type":"quantitative","scale":{"domain":[0,1200],"range":[367,79],"nice":false,"zero":false},"axis":{"orient":"left","offset":-642,"values":[0,200,400,600,800,1000,1200],"format":"d","labelFont":"Open Sans","labelFontSize":8.3,"labelColor":"#888888","ticks":false,"domain":false,"grid":true,"gridColor":"#eeeeee","labelPadding":9,"title":"Popularity Changes","titleFont":"Open Sans","titleFontSize":8.3,"titleFontWeight":"normal","titleColor":"#888888","titlePadding":6}},
     "color":{"field":"name","type":"nominal","scale":{"domain":["Graph DBMS","Search engines","Document stores","Key-value stores","Time Series DBMS","Wide column stores","RDF stores","Native XML DBMS","Object oriented DBMS","Multivalue DBMS","Relational DBMS"],"range":["#8dc21f","#2db34a","#14233a","#8b1010","#3a10c8","#5c3317","#b4dc85","#3f1d6b","#82aaea","#2bb6d9","#e8101c"]},"legend":null}}},
{"data":{"name":"trend"},
  "transform":[{"fold":["g","se","dc","kv","ts","wc","rdf","xml","oo","mv","rel"],"as":["k","v"]},{"lookup":"k","from":{"data":{"name":"series"},"key":"k","fields":["name"]}}],
  "mark":{"type":"point","filled":true,"size":22,"opacity":1},"encoding":{
     "x":{"field":"d","type":"temporal","scale":{"domain":[{"year":2012,"month":12,"date":1},{"year":2019,"month":10,"date":1}],"range":[642,1194],"nice":false},"axis":null},
     "y":{"field":"v","type":"quantitative","scale":{"domain":[0,1200],"range":[367,79],"nice":false,"zero":false},"axis":null},
     "color":{"field":"name","type":"nominal","scale":{"domain":["Graph DBMS","Search engines","Document stores","Key-value stores","Time Series DBMS","Wide column stores","RDF stores","Native XML DBMS","Object oriented DBMS","Multivalue DBMS","Relational DBMS"],"range":["#8dc21f","#2db34a","#14233a","#8b1010","#3a10c8","#5c3317","#b4dc85","#3f1d6b","#82aaea","#2bb6d9","#e8101c"]},"legend":{"title":null,"orient":"none","legendX":1208,"legendY":164,"padding":0,"labelFont":"Open Sans","labelFontSize":8.6,"labelColor":"#333333","symbolSize":28,"rowPadding":3.8,"labelOffset":5}},
     "shape":{"field":"name","type":"nominal","scale":{"domain":["Graph DBMS","Search engines","Document stores","Key-value stores","Time Series DBMS","Wide column stores","RDF stores","Native XML DBMS","Object oriented DBMS","Multivalue DBMS","Relational DBMS"],"range":["circle","triangle-down","square","triangle-up","triangle-down","diamond","circle","diamond","square","triangle-up","circle"]},"legend":{"title":null,"orient":"none","legendX":1208,"legendY":164,"padding":0,"labelFont":"Open Sans","labelFontSize":8.6,"labelColor":"#333333","symbolSize":28,"rowPadding":3.8,"labelOffset":5}}}},
{"data":{"values":[{}]},"mark":{"type":"rect","fillOpacity":0,"stroke":"#111111","strokeWidth":1.6},"encoding":{"x":{"datum":{"year":2012,"month":3,"date":4},"type":"temporal","scale":{"domain":[{"year":2012,"month":12,"date":1},{"year":2019,"month":10,"date":1}],"range":[642,1194],"nice":false},"axis":null},"x2":{"datum":{"year":2021,"month":4,"date":10}},"y":{"datum":1354,"type":"quantitative","scale":{"domain":[0,1200],"range":[367,79],"nice":false,"zero":false},"axis":null},"y2":{"datum":-129}}},
{"data":{"values":[{}]},"mark":{"type":"text","text":"Complete trend, starting with January 2013","align":"left","baseline":"middle","font":"DejaVu Sans","fontSize":13.3,"fontWeight":"bold","color":"#222222"},"encoding":{"x":{"datum":{"year":2012,"month":3,"date":17},"type":"temporal","scale":{"domain":[{"year":2012,"month":12,"date":1},{"year":2019,"month":10,"date":1}],"range":[642,1194],"nice":false},"axis":null},"y":{"datum":1317,"type":"quantitative","scale":{"domain":[0,1200],"range":[367,79],"nice":false,"zero":false},"axis":null}}},
{"data":{"values":[{}]},"mark":{"type":"text","text":"© 2019, DB-Engines.com","align":"center","baseline":"middle","font":"Open Sans","fontSize":8.3,"color":"#9a9a9a"},"encoding":{"x":{"datum":{"year":2016,"month":10,"date":16},"type":"temporal","scale":{"domain":[{"year":2012,"month":12,"date":1},{"year":2019,"month":10,"date":1}],"range":[642,1194],"nice":false},"axis":null},"y":{"datum":-100,"type":"quantitative","scale":{"domain":[0,1200],"range":[367,79],"nice":false,"zero":false},"axis":null}}}
],
"resolve":{"scale":{"x":"independent","y":"independent","color":"independent","shape":"independent","fill":"independent","stroke":"independent"},"axis":{"x":"independent","y":"independent"}}
}
